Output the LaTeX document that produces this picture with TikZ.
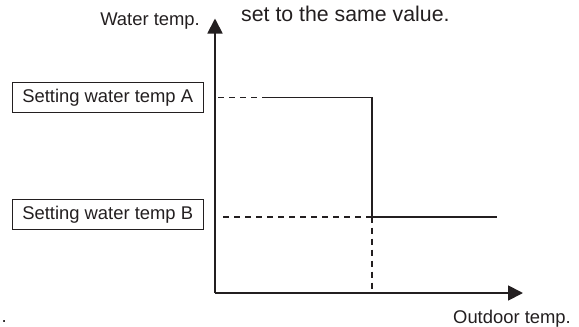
\documentclass[tikz,border=0pt]{standalone}
\usepackage{fontspec}
\setmainfont{Liberation Sans}
\usetikzlibrary{arrows.meta}
\definecolor{ink}{HTML}{231F20}
\tikzset{
  axisline/.style={line width=1.8pt, draw=ink, -{Triangle[length=15pt,width=15pt]}},
  curve/.style={line width=1.6pt, draw=ink},
  guide/.style={line width=1.6pt, draw=ink, dash pattern=on 6pt off 5pt},
  labelbox/.style={draw=ink, line width=0.8pt, minimum width=191pt, minimum height=30pt, inner sep=0pt, text=ink, font=\fontsize{18.4}{22}\selectfont},
  lbl/.style={text=ink, inner sep=0pt, font=\fontsize{18.4}{22}\selectfont},
  biglbl/.style={text=ink, inner sep=0pt, font=\fontsize{21.3}{25}\selectfont}
}
\begin{document}
\begin{tikzpicture}[x=1pt,y=-1pt]
\useasboundingbox (0,0) rectangle (579,327);
% coordinates
\coordinate (O) at (215,293);
\coordinate (ytip) at (215,18.5);
\coordinate (xtip) at (523,293);
\coordinate (A0) at (218,97.3);
\coordinate (A1) at (263,97.3);
\coordinate (A2) at (372,97.3);
\coordinate (B0) at (223,216.7);
\coordinate (B1) at (372,216.7);
\coordinate (B2) at (497,216.7);
\coordinate (X0) at (372,293);
% axes
\draw[axisline] (O) -- (ytip);
\draw[axisline] (O) -- (xtip);
% guides
\draw[guide] (A0) -- (A1);
\draw[guide] (B0) -- (B1);
\draw[guide] (B1) -- (X0);
% step curve
\draw[curve] (A1) -- (A2) -- (B1) -- (B2);
% boxes
\node[labelbox] (boxA) at (107.7,97.3) {Setting water temp A};
\node[labelbox] (boxB) at (107.7,214.7) {Setting water temp B};
% texts
\node[lbl, anchor=base east] (ylab) at (200,25) {Water temp.};
\node[biglbl, anchor=base west] (note) at (241,21.5) {set to the same value.};
\node[lbl, anchor=base west] (xlab) at (453,323) {Outdoor temp.};
\node[lbl, anchor=base west] (dot) at (1.5,322) {.};
\end{tikzpicture}
\end{document}
